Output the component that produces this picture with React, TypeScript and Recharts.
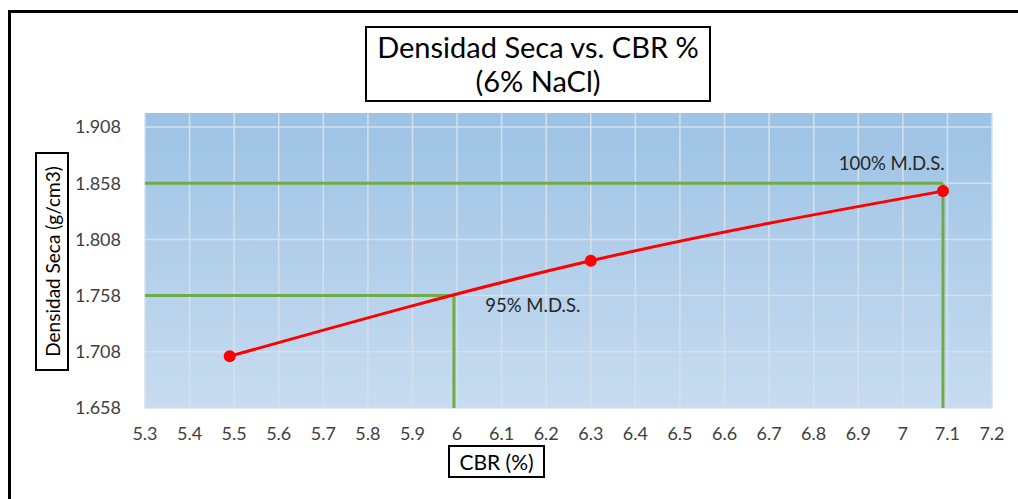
import React from 'react';
import {
  LineChart, Line, XAxis, YAxis, CartesianGrid, ReferenceLine, ReferenceDot,
} from 'recharts';

// CBR (%) vs densidad seca (g/cm3), 6% NaCl
const cbrValues = [5.49, 6.3, 7.09];
const densityValues = [1.704, 1.789, 1.851];

const xTicks = [5.3, 5.4, 5.5, 5.6, 5.7, 5.8, 5.9, 6, 6.1, 6.2, 6.3, 6.4, 6.5, 6.6, 6.7, 6.8, 6.9, 7, 7.1, 7.2];
const yTicks = [1.658, 1.708, 1.758, 1.808, 1.858, 1.908];

// M.D.S. guide lines: [cbr, density]
const mds100 = [7.09, 1.858];
const mds95 = [5.993, 1.758];

const labels = [
  { text: '100% M.D.S.', x: 6.975, y: 1.876 },
  { text: '95% M.D.S.', x: 6.17, y: 1.749 },
];

const data = cbrValues.map((cbr, i) => ({ cbr, density: densityValues[i] }));

const font = 'Lato, "Liberation Sans", sans-serif';
const green = '#6FAC46';

const boxStyle: React.CSSProperties = {
  position: 'absolute',
  border: '2px solid #000',
  background: '#fff',
  fontFamily: font,
  color: '#000',
  display: 'flex',
  alignItems: 'center',
  justifyContent: 'center',
  boxSizing: 'border-box',
};

export default function App() {
  return (
    <div style={{ position: 'absolute', left: 0, top: 0, width: 1018, height: 499, background: '#fff', overflow: 'hidden' }}>
      <div style={{ position: 'absolute', left: 8, top: 10, width: 1030, height: 520, border: '3px solid #000', boxSizing: 'border-box' }} />
      <div style={{ position: 'absolute', left: 0, top: 0 }}>
        <LineChart width={1018} height={499} data={data} margin={{ top: 113, right: 26, bottom: 61, left: 85 }}>
          <defs>
            <linearGradient id="plotBg" x1="0" y1="0" x2="0" y2="1">
              <stop offset="0%" stopColor="#9CC2E5" />
              <stop offset="100%" stopColor="#C8DCF0" />
            </linearGradient>
          </defs>
          <CartesianGrid fill="url(#plotBg)" stroke="#D6E0EA" strokeWidth={1.5} horizontalValues={yTicks} verticalValues={xTicks} />
          <XAxis
            dataKey="cbr"
            type="number"
            domain={[5.3, 7.2]}
            ticks={xTicks}
            height={30}
            axisLine={false}
            tickLine={false}
            tick={{ fill: '#404040', fontSize: 18, fontFamily: font }}
            tickMargin={13}
            tickFormatter={(v: number) => String(v)}
          />
          <YAxis
            type="number"
            domain={[1.658, 1.9205]}
            ticks={yTicks}
            width={60}
            axisLine={false}
            tickLine={false}
            tick={{ fill: '#404040', fontSize: 18, fontFamily: font }}
            tickMargin={18}
            tickFormatter={(v: number) => v.toFixed(3)}
          />
          <ReferenceLine
            segment={[{ x: 5.3, y: mds100[1] }, { x: mds100[0], y: mds100[1] }]}
            stroke={green}
            strokeWidth={3}
          />
          <ReferenceLine
            segment={[{ x: mds100[0], y: 1.658 }, { x: mds100[0], y: mds100[1] }]}
            stroke={green}
            strokeWidth={3}
          />
          <ReferenceLine
            segment={[{ x: 5.3, y: mds95[1] }, { x: mds95[0], y: mds95[1] }]}
            stroke={green}
            strokeWidth={3}
          />
          <ReferenceLine
            segment={[{ x: mds95[0], y: 1.658 }, { x: mds95[0], y: mds95[1] }]}
            stroke={green}
            strokeWidth={3}
          />
          <Line
            type="natural"
            dataKey="density"
            stroke="#FF0000"
            strokeWidth={3}
            dot={{ r: 6, fill: '#FF0000', stroke: '#FF0000', strokeWidth: 0 }}
            isAnimationActive={false}
          />
          {labels.map((l) => (
            <ReferenceDot
              key={l.text}
              x={l.x}
              y={l.y}
              r={0}
              stroke="none"
              fill="none"
              label={{ value: l.text, position: 'center', fill: '#262626', fontSize: 18.5, fontFamily: font }}
            />
          ))}
        </LineChart>
      </div>
      <div style={{ ...boxStyle, left: 365, top: 26, width: 346, height: 76, flexDirection: 'column', fontSize: 29, lineHeight: '34px' }}>
        <div>Densidad Seca vs. CBR %</div>
        <div>(6% NaCl)</div>
      </div>
      <div style={{ ...boxStyle, left: 448, top: 445, width: 97, height: 33, fontSize: 21 }}>
        CBR (%)
      </div>
      <div style={{ ...boxStyle, left: 35, top: 152, width: 34, height: 219 }}>
        <div style={{ transform: 'rotate(-90deg)', whiteSpace: 'nowrap', fontSize: 19 }}>Densidad Seca (g/cm3)</div>
      </div>
    </div>
  );
}
